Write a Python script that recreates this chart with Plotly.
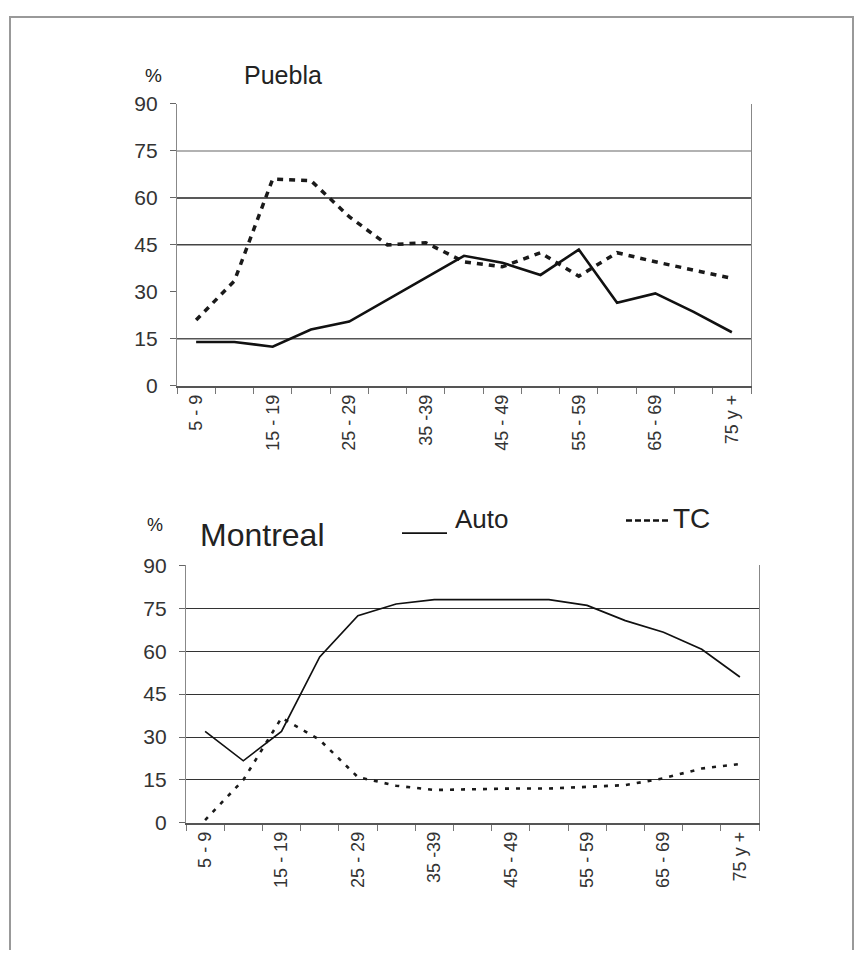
import plotly.graph_objects as go

age_groups = ["5 - 9", "10 - 14", "15 - 19", "20 - 24", "25 - 29", "30 - 34", "35 -39",
              "40 - 44", "45 - 49", "50 - 54", "55 - 59", "60 - 64", "65 - 69", "70 - 74", "75 y +"]
tick_labels = ["5 - 9", "15 - 19", "25 - 29", "35 -39", "45 - 49", "55 - 59", "65 - 69", "75 y +"]
y_ticks = [0, 15, 30, 45, 60, 75, 90]

puebla_auto = [14, 14, 12.5, 18, 20.5, 27.5, 34.5, 41.5, 39.3, 35.4, 43.5, 26.5, 29.5, 23.6, 17.1]
puebla_tc = [21, 33.5, 66, 65.5, 54, 45, 45.7, 39.6, 38, 42.5, 35, 42.5, 39.6, 37, 34.3]

montreal_auto = [32, 21.7, 32, 58, 72.4, 76.5, 78, 78, 78, 78, 76, 70.7, 66.6, 60.7, 51]
montreal_tc = [1, 15, 36.7, 29, 16, 13, 11.5, 11.8, 12, 12, 12.6, 13.2, 15.6, 19, 20.6]

x_idx = list(range(len(age_groups)))
tick_pos = [i for i, a in enumerate(age_groups) if a in tick_labels]

# the page body has an 8px margin, so the figure is 16px smaller than the window
OFF = 8
W, H = 863 - 2 * OFF, 958 - 2 * OFF
def px(x):
    return (x - OFF) / W
def py(y):
    return 1 - (y - OFF) / H

font_family = "Liberation Sans, Arial, sans-serif"
fig = go.Figure()

fig.add_trace(go.Scatter(x=x_idx, y=puebla_tc, mode="lines", xaxis="x", yaxis="y",
                         line=dict(color="#1a1a1a", width=3.5, dash="6px,6px"),
                         showlegend=False, name="TC"))
fig.add_trace(go.Scatter(x=x_idx, y=puebla_auto, mode="lines", xaxis="x", yaxis="y",
                         line=dict(color="#111", width=2.6),
                         showlegend=False, name="Auto"))
fig.add_trace(go.Scatter(x=x_idx, y=montreal_tc, mode="lines", xaxis="x2", yaxis="y2",
                         line=dict(color="#1a1a1a", width=2.6, dash="4px,7px"),
                         showlegend=False, name="TC"))
fig.add_trace(go.Scatter(x=x_idx, y=montreal_auto, mode="lines", xaxis="x2", yaxis="y2",
                         line=dict(color="#111", width=1.7),
                         showlegend=False, name="Auto"))

xaxis_common = dict(
    range=[-0.5, len(age_groups) - 0.5],
    tickmode="array", tickvals=tick_pos, ticktext=tick_labels,
    tickangle=-90, ticks="", showgrid=False, zeroline=False,
    showline=True, linecolor="#555", linewidth=1.5,
    tickfont=dict(family=font_family, size=18, color="#333"),
    minor=dict(tickmode="linear", tick0=-0.5, dtick=1, ticks="outside",
               ticklen=6, tickcolor="#777", tickwidth=1, showgrid=False),
    fixedrange=True,
)
yaxis_common = dict(
    range=[0, 90], tickmode="array", tickvals=y_ticks,
    ticks="outside", ticklen=6, tickcolor="#666",
    showline=True, linecolor="#888", linewidth=1.3, mirror=True,
    zeroline=False, ticklabelstandoff=8,
    tickfont=dict(family=font_family, size=21, color="#333"),
    fixedrange=True,
)

fig.update_layout(
    width=W, height=H,
    margin=dict(l=0, r=0, t=0, b=0),
    paper_bgcolor="white", plot_bgcolor="white",
    showlegend=False,
    xaxis=dict(domain=[px(177), px(751)], anchor="y", **xaxis_common),
    yaxis=dict(domain=[py(383), py(94)], anchor="x", showgrid=False, **yaxis_common),
    xaxis2=dict(domain=[px(186), px(759)], anchor="y2", **xaxis_common),
    yaxis2=dict(domain=[py(831), py(567)], anchor="x2", showgrid=True, gridcolor="#333",
                gridwidth=1.4, **yaxis_common),
)

# Puebla gridlines (varying tone as in the scan)
puebla_grid = [(15, "#555"), (45, "#444"), (60, "#222"), (75, "#999")]
shapes = []
for val, col in puebla_grid:
    shapes.append(dict(type="line", xref="x domain", yref="y", x0=0, x1=1, y0=val, y1=val,
                       line=dict(color=col, width=1.5), layer="below"))

# frame
shapes.append(dict(type="rect", xref="paper", yref="paper", x0=px(10), x1=px(853),
                   y0=-0.02, y1=py(5), line=dict(color="#999", width=2)))
# legend samples
shapes.append(dict(type="line", xref="paper", yref="paper", x0=px(402), x1=px(447),
                   y0=py(534), y1=py(534), line=dict(color="#111", width=1.8)))
shapes.append(dict(type="line", xref="paper", yref="paper", x0=px(626), x1=px(671),
                   y0=py(521), y1=py(521), line=dict(color="#111", width=2.4, dash="6px,3px")))
fig.update_layout(shapes=shapes)

ann = []
def text(x, y, s, size, xanchor="left"):
    ann.append(dict(xref="paper", yref="paper", x=px(x), y=py(y), text=s, showarrow=False,
                    xanchor=xanchor, yanchor="middle", xshift=-2,
                    font=dict(family=font_family, size=size, color="#222")))

text(145, 65, "%", 19)
text(244, 64, "Puebla", 25)
text(147, 526, "%", 18)
text(200, 536, "Montreal", 32)
text(455, 519, "Auto", 26)
text(673, 519, "TC", 28)
fig.update_layout(annotations=ann)

fig.write_html("out.html")
